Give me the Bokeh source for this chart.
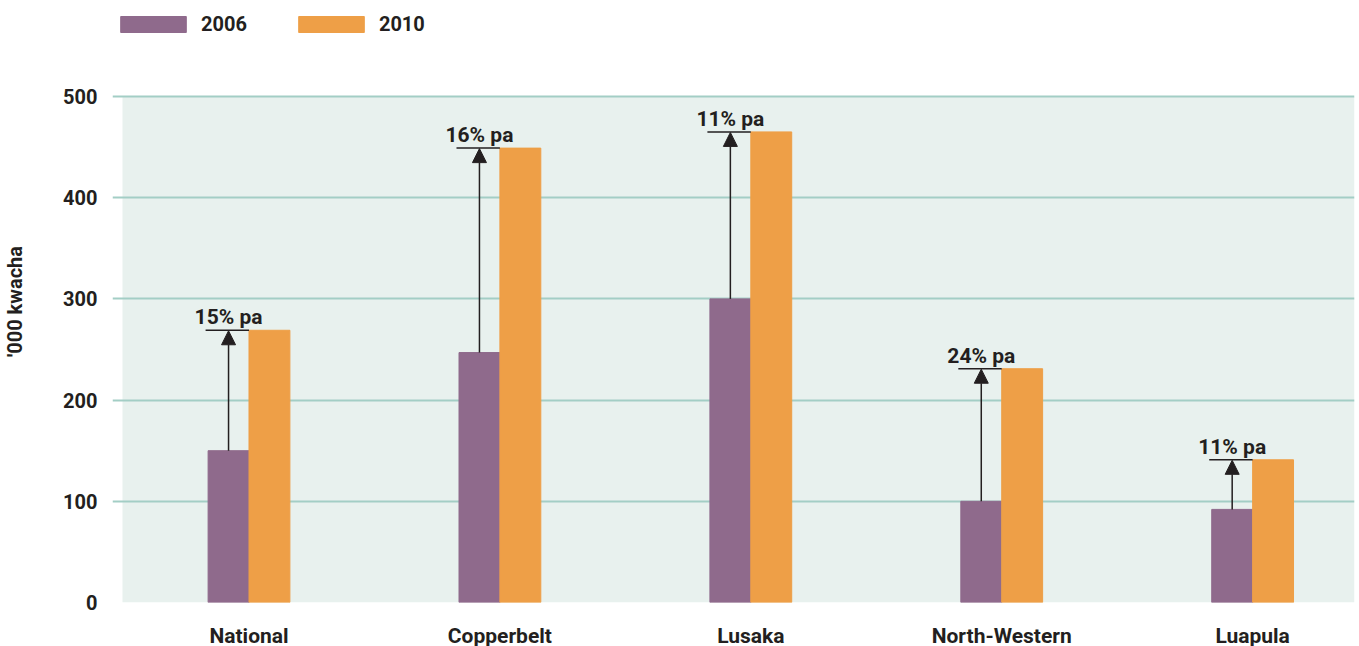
from bokeh.plotting import figure
from bokeh.models import (Range1d, FixedTicker, Arrow, NormalHead, BoxAnnotation)
from bokeh.core.properties import value
from bokeh.embed import file_html
from bokeh.resources import INLINE

# ---- data ----
regions = ["National", "Copperbelt", "Lusaka", "North-Western", "Luapula"]
income_2006 = [150, 247, 300, 100, 92]
income_2010 = [269, 449, 465, 231, 141]
growth_labels = ["15% pa", "16% pa", "11% pa", "24% pa", "11% pa"]
y_ticks = [0, 100, 200, 300, 400, 500]

# ---- style / layout ----
FONT = "Roboto"
PURPLE = "#8f6a8c"
ORANGE = "#ee9f47"
BG = "#e8f1ee"
GRID = "#a3cec5"
DARK = "#231f20"
BAR_W = 0.163
X0, X1 = -0.544, 4.406
FRAME_W, FRAME_H = 1242, 602       # frame reaches the top so the legend is not clipped
Y_MAX = y_ticks[-1]
Y_TOP = Y_MAX * FRAME_H / 506      # 500 sits 96 px below the top

idx = list(range(len(regions)))
x06 = [i - BAR_W / 2 for i in idx]
x10 = [i + BAR_W / 2 for i in idx]
seg_x0 = [i - BAR_W - 0.01 for i in idx]

p = figure(frame_width=FRAME_W, frame_height=FRAME_H, output_backend="svg", toolbar_location=None,
           x_range=Range1d(X0, X1), y_range=Range1d(0, Y_TOP),
           min_border_left=112, min_border_right=5, min_border_top=0, min_border_bottom=43)
p.outline_line_color = None
p.background_fill_color = "white"

# shaded plot background (white strip on the left where gridlines stick out)
bg = BoxAnnotation(left=X0 + 10 * (X1 - X0) / FRAME_W, bottom=0, top=Y_MAX,
                   fill_color=BG, fill_alpha=1.0, line_color=None, level="image")
p.add_layout(bg)

p.vbar(x=x06, top=income_2006, width=BAR_W, color=PURPLE, legend_label="2006")
p.vbar(x=x10, top=income_2010, width=BAR_W, color=ORANGE, legend_label="2010")

# growth arrows
for xa, a, b in zip(x06, income_2006, income_2010):
    p.add_layout(Arrow(x_start=xa, y_start=a, x_end=xa, y_end=b - 0.5,
                       line_color=DARK, line_width=1.5,
                       end=NormalHead(size=14, fill_color=DARK, fill_alpha=1.0,
                                      line_color=DARK, line_width=1)))
p.segment(x0=seg_x0, y0=income_2010, x1=idx, y1=income_2010, line_color=DARK, line_width=1.5)
p.text(x=x06, y=income_2010, text=growth_labels, text_align="center", text_baseline="bottom",
       y_offset=-1, text_font=value(FONT), text_font_style="bold", text_font_size="21px",
       text_color=DARK)

# axes
p.xaxis.ticker = FixedTicker(ticks=idx)
p.xaxis.major_label_overrides = {i: r for i, r in zip(idx, regions)}
p.xaxis.axis_line_color = None
p.xaxis.major_tick_line_color = None
p.xaxis.minor_tick_line_color = None
p.xaxis.major_label_standoff = 15
p.xaxis.major_label_text_font = FONT
p.xaxis.major_label_text_font_style = "bold"
p.xaxis.major_label_text_font_size = "21px"
p.xaxis.major_label_text_color = DARK

p.yaxis.ticker = FixedTicker(ticks=y_ticks)
p.yaxis.axis_line_color = None
p.yaxis.major_tick_line_color = None
p.yaxis.minor_tick_line_color = None
p.yaxis.major_label_standoff = 9
p.yaxis.major_label_text_font = FONT
p.yaxis.major_label_text_font_style = "bold"
p.yaxis.major_label_text_font_size = "20px"
p.yaxis.major_label_text_color = DARK
p.yaxis.axis_label = "'000 kwacha"
p.yaxis.axis_label_text_font = FONT
p.yaxis.axis_label_text_font_style = "bold"
p.yaxis.axis_label_text_font_size = "20px"
p.yaxis.axis_label_text_color = DARK
p.yaxis.axis_label_standoff = 33

p.xgrid.grid_line_color = None
p.ygrid.grid_line_color = GRID
p.ygrid.grid_line_width = 2

# legend
lg = p.legend[0]
lg.orientation = "horizontal"
lg.location = (0, FRAME_H - 36)
lg.padding = 0
lg.margin = 0
lg.spacing = 43
lg.label_standoff = 7
lg.glyph_width = 82
lg.glyph_height = 20
lg.border_line_color = None
lg.background_fill_alpha = 0
lg.label_text_font = FONT
lg.label_text_font_style = "bold"
lg.label_text_font_size = "20px"
lg.label_text_color = DARK

open("out.html", "w").write(file_html(p, INLINE))
